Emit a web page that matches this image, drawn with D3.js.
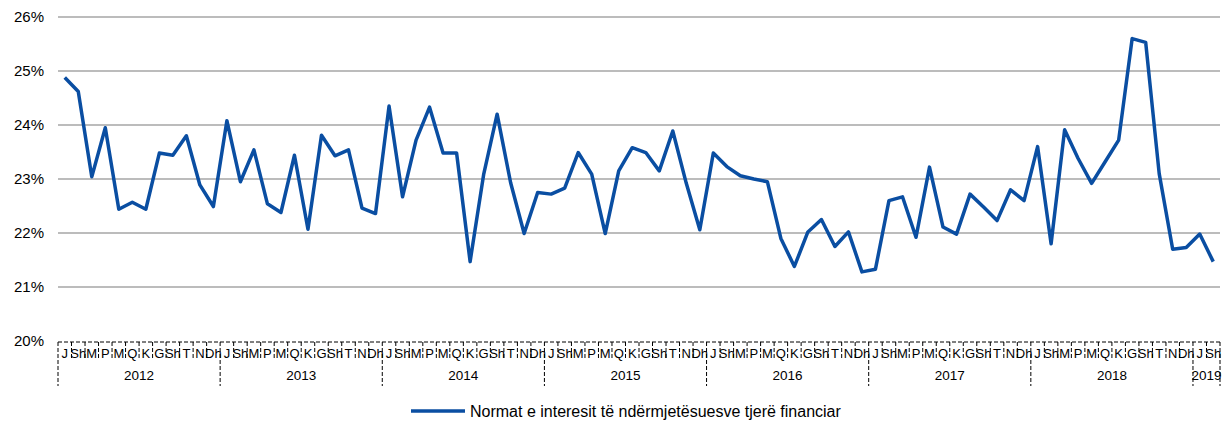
<!DOCTYPE html>
<html>
<head>
<meta charset="utf-8">
<script src="https://cdn.jsdelivr.net/npm/d3@7"></script>
<style>
  body { margin: 0; background: #fff; }
  svg text { font-family: "Liberation Sans", Arial, sans-serif; fill: #000; }
</style>
</head>
<body>
<div id="chart"></div>
<script>
const width = 1225;
const height = 425;

const monthNames = ["J", "Sh", "M", "P", "M", "Q", "K", "G", "Sh", "T", "N", "Dh"];
const years = ["2012", "2013", "2014", "2015", "2016", "2017", "2018", "2019"];
const yTicks = [20, 21, 22, 23, 24, 25, 26];
const seriesName = "Normat e interesit të ndërmjetësuesve tjerë financiar";

// Jan 2012 - Feb 2019, %
const rates = [
  24.88, 24.62, 23.04, 23.95, 22.44, 22.57, 22.44, 23.48, 23.44, 23.80, 22.89, 22.49,
  24.08, 22.95, 23.54, 22.54, 22.38, 23.44, 22.07, 23.81, 23.43, 23.54, 22.46, 22.36,
  24.35, 22.67, 23.72, 24.33, 23.48, 23.48, 21.47, 23.08, 24.20, 22.93, 21.99, 22.75,
  22.72, 22.83, 23.49, 23.09, 21.99, 23.15, 23.58, 23.49, 23.15, 23.89, 22.92, 22.06,
  23.48, 23.23, 23.06, 23.00, 22.95, 21.90, 21.38, 22.02, 22.25, 21.75, 22.02, 21.28,
  21.33, 22.60, 22.67, 21.92, 23.22, 22.11, 21.98, 22.72, 22.48, 22.23, 22.80, 22.60,
  23.60, 21.80, 23.91, 23.38, 22.92, 23.32, 23.72, 25.60, 25.53, 23.10, 21.70, 21.73,
  21.98, 21.47
];

(function main(){
    const margin = {top: 17, left: 58, right: 5};
    const plotBottom = 341;

    const svg = d3.select("#chart")
        .append("svg")
        .attr("width", width)
        .attr("height", height);

    const idx = d3.range(rates.length);

    const x = d3.scaleBand()
        .domain(idx)
        .range([margin.left, width - margin.right])
        .padding(0);

    const y = d3.scaleLinear()
        .domain([20, 26])
        .range([plotBottom, margin.top]);

    // gridlines
    svg.append("g")
        .selectAll("line")
        .data(yTicks.filter(t => t > 20))
        .join("line")
        .attr("x1", margin.left)
        .attr("x2", width - margin.right)
        .attr("y1", d => y(d))
        .attr("y2", d => y(d))
        .attr("stroke", "#a6a6a6")
        .attr("stroke-width", 1.5);

    // y labels
    svg.append("g")
        .selectAll("text")
        .data(yTicks)
        .join("text")
        .attr("x", 44)
        .attr("y", d => y(d))
        .attr("dy", "0.35em")
        .attr("text-anchor", "end")
        .style("font-size", "15px")
        .text(d => d + "%");

    // category axis: dashed frame
    const axisG = svg.append("g").attr("stroke", "#000").attr("stroke-width", 1).attr("stroke-dasharray", "4,2");
    const x0 = x(0), x1 = x(rates.length - 1) + x.bandwidth();
    axisG.append("line")
        .attr("x1", x0).attr("x2", x1)
        .attr("y1", plotBottom + 1).attr("y2", plotBottom + 1);

    axisG.selectAll("line.tick")
        .data(d3.range(rates.length + 1))
        .join("line")
        .attr("class", "tick")
        .attr("x1", i => i < rates.length ? x(i) : x1)
        .attr("x2", i => i < rates.length ? x(i) : x1)
        .attr("y1", plotBottom + 1)
        .attr("y2", i => (i % 12 == 0 || i == rates.length) ? 386 : 358);

    // month labels
    svg.append("g")
        .selectAll("text")
        .data(idx)
        .join("text")
        .attr("x", i => x(i) + x.bandwidth() / 2)
        .attr("y", 353)
        .attr("dy", "0.35em")
        .attr("text-anchor", "middle")
        .style("font-size", "13px")
        .text(i => monthNames[i % 12]);

    // year labels
    svg.append("g")
        .selectAll("text")
        .data(years)
        .join("text")
        .attr("x", (d, k) => {
            const s = x(k * 12);
            const e = Math.min(rates.length, (k + 1) * 12);
            const end = e < rates.length ? x(e) : x1;
            return (s + end) / 2;
        })
        .attr("y", 375)
        .attr("dy", "0.35em")
        .attr("text-anchor", "middle")
        .style("font-size", "13.5px")
        .text(d => d);

    const line = d3.line()
        .x((d, i) => x(i) + x.bandwidth() / 2)
        .y(d => y(d));

    svg.append("path")
        .datum(rates)
        .attr("fill", "none")
        .attr("stroke", "#0a4ea2")
        .attr("stroke-width", 3.5)
        .attr("stroke-linejoin", "round")
        .attr("d", line);

    // legend
    const lg = svg.append("g");
    lg.append("line")
        .attr("x1", 411).attr("x2", 465)
        .attr("y1", 411).attr("y2", 411)
        .attr("stroke", "#0a4ea2")
        .attr("stroke-width", 3.5);
    lg.append("text")
        .attr("x", 470)
        .attr("y", 411)
        .attr("dy", "0.35em")
        .style("font-size", "16px")
        .text(seriesName);
})();
</script>
</body>
</html>
